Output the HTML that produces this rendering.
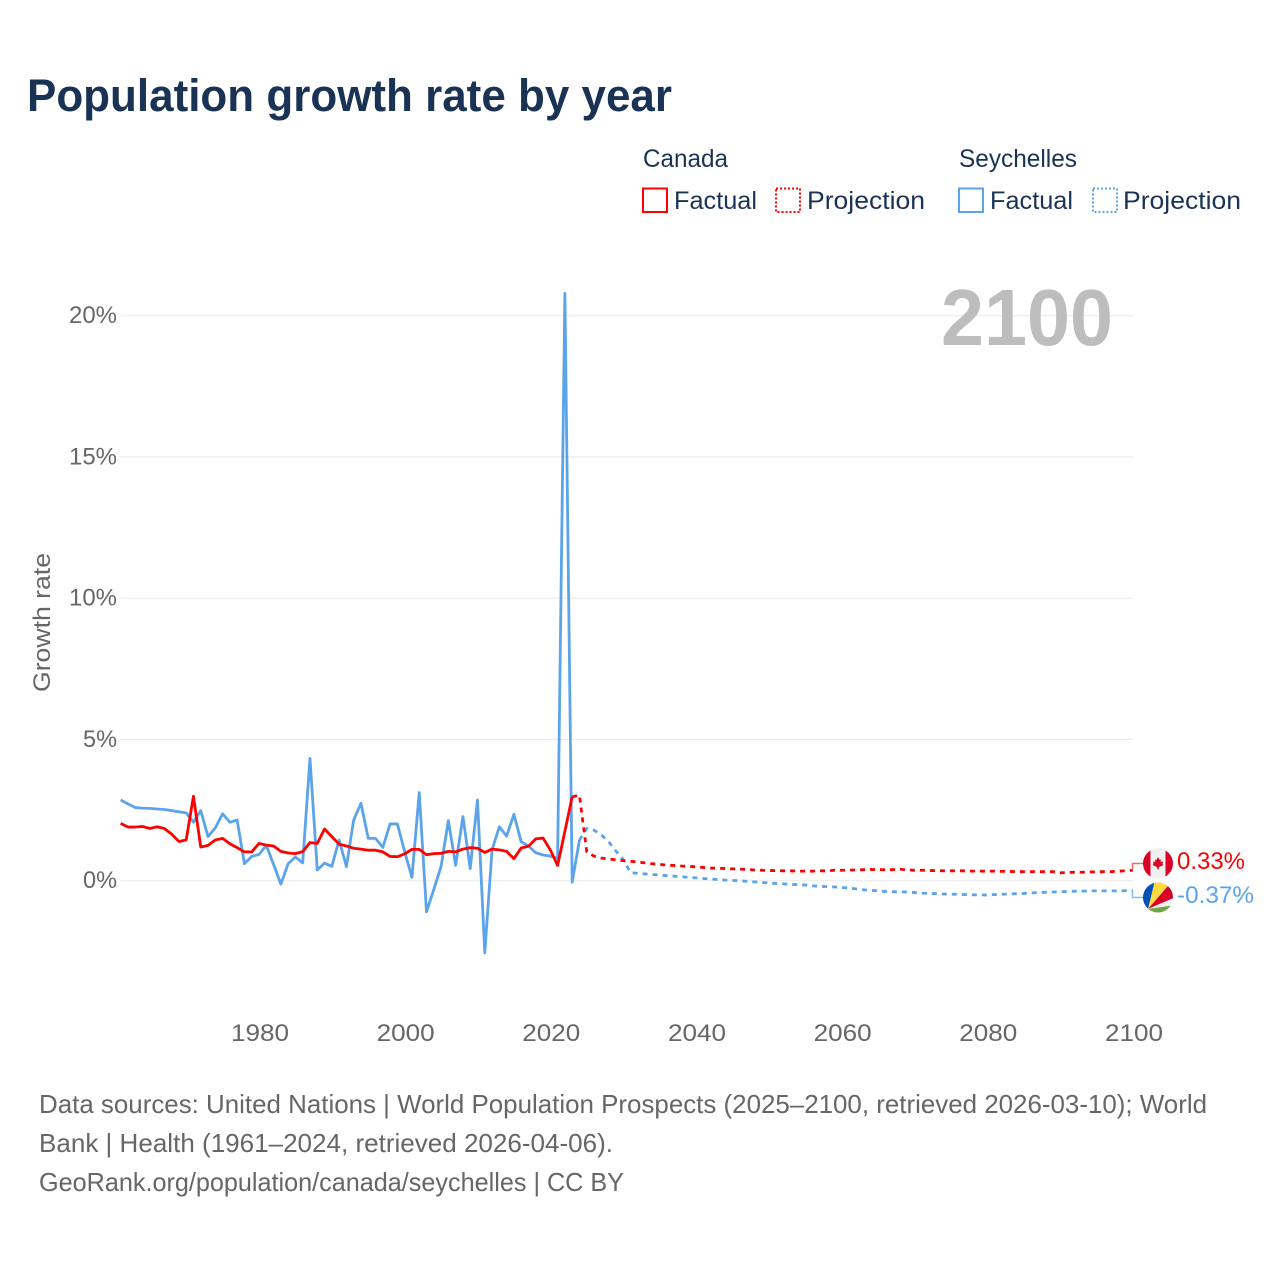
<!DOCTYPE html>
<html lang="en">
<head>
<meta charset="utf-8">
<title>Population growth rate by year</title>
<style>
html,body{margin:0;padding:0;background:#fff;}
svg{display:block;font-family:"Liberation Sans",sans-serif;}
</style>
</head>
<body>
<svg id="chart" width="1280" height="1280" viewBox="0 0 1280 1280" xmlns="http://www.w3.org/2000/svg">
  <defs>
    <clipPath id="clip-ca"><circle cx="1158" cy="863.5" r="15"/></clipPath>
    <clipPath id="clip-sc"><circle cx="1158" cy="897.5" r="15"/></clipPath>
  </defs>
  <rect width="1280" height="1280" fill="#fff"/>
  <text x="27" y="111" font-size="45" font-weight="700" fill="#1a3355" textLength="645" lengthAdjust="spacingAndGlyphs">Population growth rate by year</text>

  <g font-size="25" fill="#1a3355">
    <text x="643" y="167" textLength="85" lengthAdjust="spacingAndGlyphs">Canada</text>
    <text x="959" y="167" textLength="118" lengthAdjust="spacingAndGlyphs">Seychelles</text>
    <rect x="643" y="188.500" width="24" height="23.500" fill="none" stroke="#ff0000" stroke-width="2"/>
    <text x="674" y="209" textLength="83" lengthAdjust="spacingAndGlyphs">Factual</text>
    <rect x="776" y="188.500" width="24" height="23.500" fill="none" stroke="#ff0000" stroke-width="2" stroke-dasharray="2 2"/>
    <text x="807" y="209" textLength="118" lengthAdjust="spacingAndGlyphs">Projection</text>
    <rect x="959" y="188.500" width="24" height="23.500" fill="none" stroke="#5ba4ec" stroke-width="2"/>
    <text x="990" y="209" textLength="83" lengthAdjust="spacingAndGlyphs">Factual</text>
    <rect x="1093" y="188.500" width="24" height="23.500" fill="none" stroke="#5ba4ec" stroke-width="2" stroke-dasharray="2 2"/>
    <text x="1123" y="209" textLength="118" lengthAdjust="spacingAndGlyphs">Projection</text>
  </g>

  <g id="grid"></g>
  <g id="yticks" font-size="24" fill="#666"></g>
  <g id="xticks" font-size="24" fill="#666"></g>

  <text transform="translate(50,692) rotate(-90)" font-size="24" fill="#666" textLength="139" lengthAdjust="spacingAndGlyphs">Growth rate</text>
  <text x="1113" y="345" text-anchor="end" font-size="80" font-weight="700" fill="#bdbdbd" textLength="172" lengthAdjust="spacingAndGlyphs">2100</text>

  <g id="series"></g>

  <g clip-path="url(#clip-ca)">
    <rect x="1143" y="848" width="30" height="31" fill="#f0f0f0"/>
    <rect x="1143" y="848" width="7.500" height="31" fill="#d80027"/>
    <rect x="1165.500" y="848" width="7.500" height="31" fill="#d80027"/>
    <polygon points="1158,857 1159.500,860 1161,859.500 1160.500,862 1163,861.500 1162.500,864 1163.500,865 1159,867 1158.500,869.500 1157.500,869.500 1157,867 1152.500,865 1153.500,864 1153,861.500 1155.500,862 1155,859.500 1156.500,860" fill="#d80027"/>
  </g>
  <g clip-path="url(#clip-sc)">
    <rect x="1143" y="882" width="30" height="31" fill="#f0f0f0"/>
    <polygon points="1148,909 1140,909 1140,880 1157,880" fill="#0052b4"/>
    <polygon points="1148,909 1155,880 1172,880 1168,888" fill="#ffda44"/>
    <polygon points="1148,909 1168,886 1176,889 1176,897" fill="#d80027"/>
    <polygon points="1148,909 1176,897 1176,905" fill="#f0f0f0"/>
    <polygon points="1148,909 1176,905 1176,915 1143,915" fill="#6da544"/>
  </g>
  <text x="1177" y="869" font-size="24" fill="#ff0000" textLength="68" lengthAdjust="spacingAndGlyphs">0.33%</text>
  <text x="1177" y="903" font-size="24" fill="#5ba4ec" textLength="77" lengthAdjust="spacingAndGlyphs">-0.37%</text>

  <g font-size="26" fill="#666">
    <text x="39" y="1113" textLength="1168" lengthAdjust="spacingAndGlyphs">Data sources: United Nations | World Population Prospects (2025–2100, retrieved 2026-03-10); World</text>
    <text x="39" y="1152" textLength="574" lengthAdjust="spacingAndGlyphs">Bank | Health (1961–2024, retrieved 2026-04-06).</text>
    <text x="39" y="1191" textLength="585" lengthAdjust="spacingAndGlyphs">GeoRank.org/population/canada/seychelles | CC BY</text>
  </g>
</svg>
<script>
const yTickValues = [0, 5, 10, 15, 20];
const yTickLabels = ["0%", "5%", "10%", "15%", "20%"];
const xTickValues = [1980, 2000, 2020, 2040, 2060, 2080, 2100];
const xTickLabels = ["1980", "2000", "2020", "2040", "2060", "2080", "2100"];
const firstFactualYear = 1961;
const canadaProjectionStartYear = 2023;
const seychellesProjectionStartYear = 2024;
const canadaFactual = [
  2.04,1.91,1.91,1.93,1.86,1.92,1.86,1.66,1.40,1.45,
  3.00,1.20,1.26,1.45,1.51,1.32,1.18,1.03,1.03,1.33,
  1.27,1.24,1.05,0.99,0.97,1.04,1.36,1.33,1.84,1.57,
  1.30,1.24,1.16,1.13,1.09,1.09,1.03,0.87,0.86,0.96,
  1.12,1.12,0.93,0.97,0.98,1.05,1.03,1.13,1.18,1.16,
  1.01,1.13,1.10,1.05,0.79,1.17,1.23,1.49,1.52,1.10,
  0.55,1.76,2.98
];
const canadaProjection = [
  2.98,3.04,1.03,0.88,0.81,0.78,0.75,0.72,
  0.70,0.67,0.64,0.61,0.59,0.56,0.55,0.53,0.52,0.50,
  0.48,0.46,0.45,0.44,0.43,0.42,0.41,0.39,0.38,0.37,
  0.37,0.36,0.36,0.35,0.35,0.35,0.36,0.36,0.38,0.38,
  0.39,0.39,0.40,0.41,0.40,0.40,0.40,0.42,0.39,0.38,
  0.38,0.37,0.37,0.36,0.36,0.36,0.36,0.35,0.35,0.35,
  0.35,0.34,0.34,0.33,0.33,0.33,0.33,0.33,0.33,0.29,
  0.30,0.31,0.31,0.32,0.32,0.33,0.33,0.35,0.36,0.38
];
const seychellesFactual = [
  2.87,2.73,2.60,2.58,2.57,2.55,2.53,2.49,2.45,2.41,
  2.08,2.49,1.57,1.88,2.38,2.08,2.16,0.61,0.87,0.94,
  1.26,0.59,-0.11,0.61,0.85,0.64,4.34,0.39,0.63,0.52,
  1.45,0.51,2.16,2.75,1.51,1.51,1.19,2.02,2.02,1.04,
  0.13,3.13,-1.09,-0.30,0.51,2.14,0.55,2.28,0.44,2.87,
  -2.54,1.10,1.92,1.59,2.36,1.39,1.24,1.00,0.92,0.88,
  0.80,20.80,-0.04,1.45
];
const seychellesProjection = [
  1.45,1.86,1.80,1.63,1.39,1.06,0.77,
  0.30,0.27,0.25,0.23,0.21,0.19,0.17,0.15,0.13,0.11,
  0.09,0.07,0.05,0.03,0.02,0.01,-0.01,-0.03,-0.05,-0.07,
  -0.09,-0.10,-0.12,-0.13,-0.14,-0.17,-0.19,-0.20,-0.21,-0.23,
  -0.25,-0.28,-0.31,-0.33,-0.35,-0.37,-0.38,-0.38,-0.39,-0.41,
  -0.43,-0.44,-0.45,-0.46,-0.47,-0.47,-0.48,-0.49,-0.49,-0.50,
  -0.48,-0.47,-0.46,-0.45,-0.44,-0.42,-0.41,-0.40,-0.39,-0.38,
  -0.37,-0.36,-0.36,-0.35,-0.35,-0.35,-0.35,-0.35,-0.34,-0.34
];

const NS = "http://www.w3.org/2000/svg";
const xScale = function (year) { return 260 + (year - 1980) * 7.283; };
const markX = function (year) { return xScale(year) - 1; };
const yScale = function (value) { return 881 - value * 28.25; };

function make(tag, parent) {
  const el = document.createElementNS(NS, tag);
  parent.appendChild(el);
  return el;
}
function linePoints(values, startYear) {
  return values.map(function (v, i) {
    return markX(startYear + i).toFixed(2) + "," + yScale(v).toFixed(2);
  }).join(" ");
}

const gridGroup = document.getElementById("grid");
const yTickGroup = document.getElementById("yticks");
const xTickGroup = document.getElementById("xticks");
const seriesGroup = document.getElementById("series");

yTickValues.forEach(function (v, i) {
  const g = make("line", gridGroup);
  
  
  g.setAttribute("x1", 120.5);
  g.setAttribute("x2", 1133);
  g.setAttribute("y1", yScale(v) - 0.3);
  g.setAttribute("y2", yScale(v) - 0.3);
  g.setAttribute("stroke", "#ebebeb");
  g.setAttribute("stroke-width", 1.1);
  const t = make("text", yTickGroup);
  
  
  t.setAttribute("x", 117);
  t.setAttribute("y", yScale(v) + 7);
  t.setAttribute("text-anchor", "end");
  t.setAttribute("textLength", yTickLabels[i].length === 3 ? 48 : 34);
  t.setAttribute("lengthAdjust", "spacingAndGlyphs");
  t.textContent = yTickLabels[i];
});

xTickValues.forEach(function (v, i) {
  const t = make("text", xTickGroup);
  
  
  t.setAttribute("x", xScale(v));
  t.setAttribute("y", 1041);
  t.setAttribute("text-anchor", "middle");
  t.setAttribute("textLength", 58);
  t.setAttribute("lengthAdjust", "spacingAndGlyphs");
  t.textContent = xTickLabels[i];
});

function drawLine(values, startYear, color, dashed) {
  const p = make("polyline", seriesGroup);
  p.setAttribute("points", linePoints(values, startYear));
  p.setAttribute("fill", "none");
  p.setAttribute("stroke", color);
  p.setAttribute("stroke-width", 2.8);
  p.setAttribute("stroke-linejoin", "round");
  if (dashed) { p.setAttribute("stroke-dasharray", "5 5"); }
  return p;
}

const seyFactLine = drawLine(seychellesFactual, firstFactualYear, "#5ba4ec", false);


const caFactLine = drawLine(canadaFactual, firstFactualYear, "#ff0000", false);


const seyProjLine = drawLine(seychellesProjection, seychellesProjectionStartYear, "#5ba4ec", true);


const caProjLine = drawLine(canadaProjection, canadaProjectionStartYear, "#ff0000", true);



const caEnd = canadaProjection[canadaProjection.length - 1];
const seyEnd = seychellesProjection[seychellesProjection.length - 1];
const caConnector = make("polyline", seriesGroup);


caConnector.setAttribute("points", "1132.5," + yScale(caEnd).toFixed(1) + " 1132.5,863.5 1143,863.5");
caConnector.setAttribute("fill", "none");
caConnector.setAttribute("stroke", "#ff6666");
caConnector.setAttribute("stroke-width", 1.5);
const seyConnector = make("polyline", seriesGroup);


seyConnector.setAttribute("points", "1132.5," + yScale(seyEnd).toFixed(1) + " 1132.5,897.5 1143,897.5");
seyConnector.setAttribute("fill", "none");
seyConnector.setAttribute("stroke", "#85bdf2");
seyConnector.setAttribute("stroke-width", 1.5);
</script>
</body>
</html>
